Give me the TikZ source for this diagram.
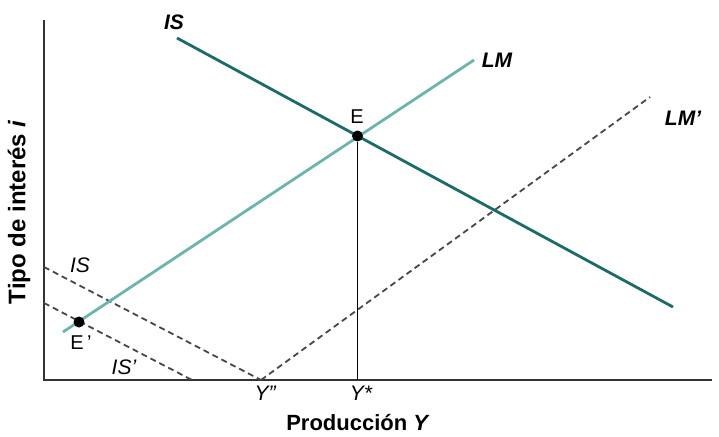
\documentclass[tikz,border=0pt]{standalone}
\usepackage{fontspec}
\setmainfont{Liberation Sans}
\begin{document}
\begin{tikzpicture}[x=1pt,y=-1pt,
  axis/.style={line width=1.5pt,black!80},
  iscurve/.style={line width=2.8pt,color=isc},
  lmcurve/.style={line width=2.8pt,color=lmc},
  dashcurve/.style={line width=1.8pt,black!72,dash pattern=on 6pt off 4pt},
  dotpt/.style={circle,fill=black,inner sep=0pt,minimum size=11pt},
  lbl/.style={font=\fontsize{20}{20}\selectfont,inner sep=0pt},
  ilbl/.style={font=\fontsize{21}{21}\selectfont\itshape,inner sep=0pt},
  blbl/.style={font=\fontsize{21}{21}\selectfont\bfseries\itshape,inner sep=0pt},
  albl/.style={font=\fontsize{22}{22}\selectfont\bfseries,inner sep=0pt}]
\definecolor{isc}{HTML}{1B6B68}
\definecolor{lmc}{HTML}{6BB5AC}
\useasboundingbox (0,0) rectangle (719,436);
% axes
\coordinate (O) at (44,380);
\coordinate (ytop) at (44,20);
\coordinate (xend) at (712,380);
\draw[axis] (ytop) -- (O) -- (xend);
% dashed curves
\coordinate (isa) at (44,267);
\coordinate (ypp) at (261,380);
\coordinate (isb) at (44,303);
\coordinate (isbe) at (192,380);
\coordinate (lmpe) at (650,97);
\draw[dashcurve] (isa) -- (ypp);
\draw[dashcurve] (isb) -- (isbe);
\draw[dashcurve] (ypp) -- (lmpe);
% main curves
\coordinate (lms) at (63,332);
\coordinate (lme) at (474,60);
\coordinate (iss) at (177,38);
\coordinate (ise) at (673,307);
\draw[lmcurve] (lms) -- (lme);
\draw[iscurve] (iss) -- (ise);
% equilibrium
\node[dotpt] (E) at (357.5,136) {};
\coordinate (ystar) at (357.5,380);
\draw[line width=1pt,black] (E) -- (ystar);
\node[dotpt] (Ep) at (79,322) {};
% labels
\node[blbl] (lIS) at (174,22) {IS};
\node[blbl] (lLM) at (497,60) {LM};
\node[blbl] (lLMp) at (683,118) {LM’};
\node[lbl] (lE) at (357,117) {E};
\node[lbl] (lEp) at (81,343) {E\,’};
\node[ilbl] (lISd) at (80,265) {IS};
\node[ilbl] (lISp) at (124,367) {IS’};
\node[ilbl] (lYpp) at (265,393) {Y"};
\node[ilbl] (lYs) at (361,393) {Y*};
\node[albl] (xlab) at (358,423) {Producción \textit{Y}};
\node[albl,font=\fontsize{24}{24}\selectfont\bfseries,rotate=90] (ylab) at (19,212) {Tipo de interés \textit{i}};
\end{tikzpicture}
\end{document}
